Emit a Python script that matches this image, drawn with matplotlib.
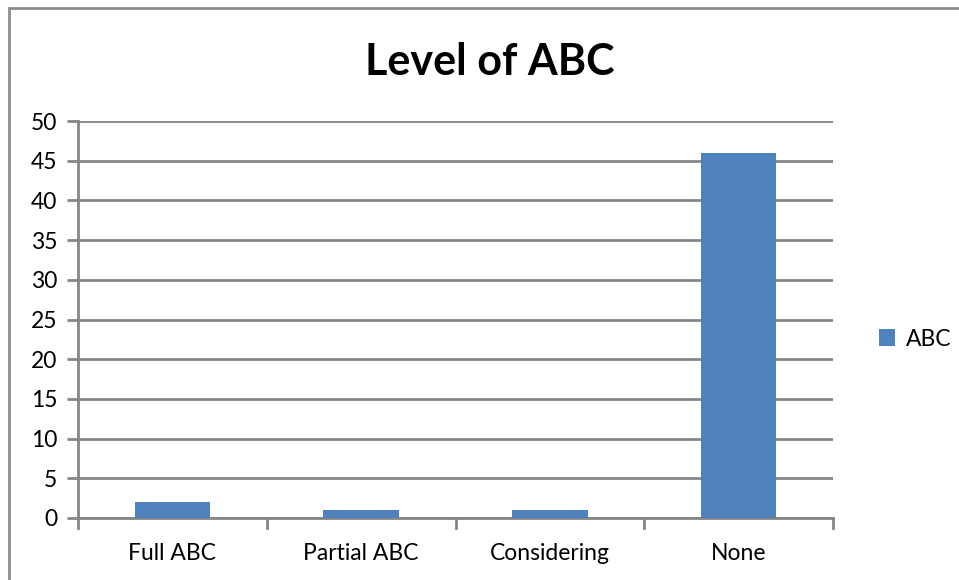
import matplotlib.pyplot as plt
from matplotlib.patches import Rectangle

categories = ["Full ABC", "Partial ABC", "Considering", "None"]
values = [2, 1, 1, 46]
series_name = "ABC"
y_ticks = list(range(0, 51, 5))

BAR = "#4F81BD"
GRID = "#868686"

plt.rcParams["font.family"] = ["Lato", "DejaVu Sans"]

fig = plt.figure(figsize=(9.59, 5.80), dpi=100)
W, H = 959, 580
ax = fig.add_axes([78 / W, 1 - 518 / H, (833 - 78) / W, (518 - 121) / H])

x = range(len(categories))
ax.bar(x, values, width=0.4, color=BAR, label=series_name, zorder=3)

ax.set_xlim(-0.5, len(categories) - 0.5)
ax.set_ylim(0, 50)
ax.set_yticks(y_ticks)
ax.set_xticks(x)
ax.set_xticklabels(categories, fontsize=16.5)
ax.tick_params(axis="x", length=0, pad=18)
ax.tick_params(axis="y", labelsize=16.5, length=8, width=2, color=GRID, pad=7)
ax.yaxis.grid(True, color=GRID, linewidth=2, zorder=0)

# category boundary ticks below the x axis
for b in [i - 0.5 for i in range(len(categories) + 1)]:
    ax.plot([b, b], [0, -0.025], transform=ax.get_xaxis_transform(),
            color=GRID, linewidth=2, clip_on=False)

for side in ["top", "right"]:
    ax.spines[side].set_visible(False)
for side in ["left", "bottom"]:
    ax.spines[side].set_color(GRID)
    ax.spines[side].set_linewidth(2)

fig.text(490 / W, 1 - 62 / H, "Level of ABC", ha="center", va="center",
         fontsize=31, fontweight="bold")

ax.legend(loc="center left", bbox_to_anchor=(858 / W, 1 - 339 / H),
          bbox_transform=fig.transFigure, frameon=False, fontsize=16.5,
          handlelength=0.7, handleheight=0.7, handletextpad=0.5)

# outer chart border, running off the right and bottom edges
fig.patches.append(Rectangle((9 / W, -0.1), 1.0, 1 - 8 / H + 0.1,
                             transform=fig.transFigure, fill=False,
                             edgecolor="#8c8c8c", linewidth=2))

fig.savefig("out.png", dpi=100)
